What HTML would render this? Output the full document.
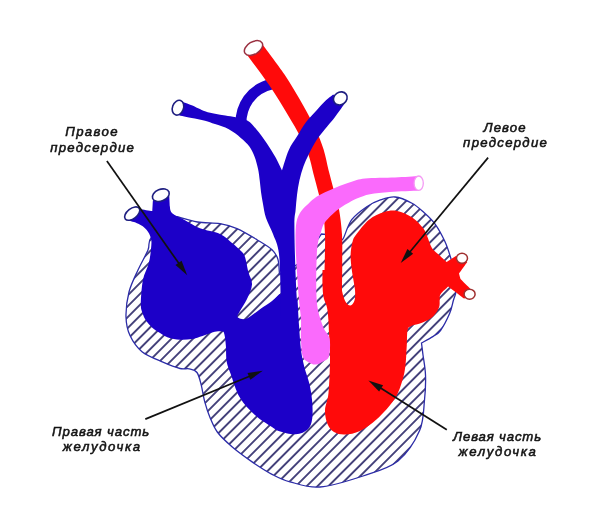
<!DOCTYPE html>
<html><head><meta charset="utf-8">
<style>
html,body{margin:0;padding:0;background:#fff;}
svg{display:block;}
svg{will-change:transform;}
text{font-family:"Liberation Sans",sans-serif;font-style:italic;font-size:13.2px;fill:#141414;stroke:#141414;stroke-width:0.55px;}
</style></head><body>
<svg width="600" height="523" viewBox="0 0 600 523">
<defs>
<pattern id="h" patternUnits="userSpaceOnUse" width="30" height="7.69" patternTransform="translate(4.0,0) rotate(-45.13)">
<rect width="30" height="7.69" fill="#fff"/>
<line x1="0" y1="3.845" x2="30" y2="3.845" stroke="#16125a" stroke-width="1.55"/>
</pattern>
</defs>
<rect width="600" height="523" fill="#fff"/>
<path fill="url(#h)" stroke="#2c2ca8" stroke-width="1.3" d="M151.7,237 C146.9,242.6 150.3,244.5 148,250 C145.7,255.5 141.2,263 138,270 C134.8,277 131,284.2 129,292 C127,299.8 125.8,309.7 126,317 C126.2,324.3 127.3,329.8 130,335.6 C132.7,341.4 136.4,347.2 142,351.7 C147.6,356.2 157.2,359.6 163.5,362.4 C169.8,365.2 175.7,367.4 180,368.5 C184.3,369.6 186.4,368.1 189.2,368.8 C192,369.5 195,369.8 197,372.5 C199,375.2 199.9,379.9 201.2,384.9 C202.5,389.9 203.4,396.9 204.9,402.3 C206.4,407.7 207.8,412.2 209.9,417.2 C212,422.1 213.6,427 217.3,432 C221,437 226.5,442 232.3,447 C238.1,452 245.5,457.3 252.1,461.9 C258.7,466.4 265.7,471 272,474.3 C278.3,477.6 282,479.7 290,481.8 C298,483.9 307.8,488 320,487 C332.2,486 350,480.3 363,476 C376,471.7 388.6,468.6 398,461 C407.4,453.4 415.2,440.8 419.6,430.6 C424,420.4 423.5,409.3 424.5,400 C425.5,390.7 425.8,382.5 425.5,375 C425.2,367.5 423.7,360.3 423,355 C422.3,349.7 421.8,345 421.5,343 C423.4,341.9 429.6,338.7 432.8,336.6 C436,334.5 437.7,334.3 440.5,330.5 C443.3,326.7 447.4,318.7 449.6,313.6 C451.8,308.5 452.4,303.8 453.5,300 C454.6,296.2 455.8,295.2 456,291 C456.2,286.8 455.9,280.8 455,275 C454.1,269.2 452,262.1 450.3,256.5 C448.6,250.9 447.3,246.7 444.8,241.3 C442.3,236 438.7,229.2 435.3,224.4 C431.9,219.6 428.1,216.2 424.2,212.7 C420.3,209.2 416.9,205.8 412,203.2 C407.1,200.6 400.4,197.5 395,197 C389.6,196.5 384.5,198.6 379.8,200.2 C375.1,201.8 371.5,203.4 366.8,206.7 C362.1,209.9 355.7,214.3 351.7,219.7 C347.7,225.1 344.8,236.3 343,239 C341.2,241.7 341.3,236.5 341,236 C337.8,235.7 324.8,234.3 321.5,234 C317.9,238.7 307,255.2 300,262 C293,268.8 282.9,272.4 279.5,274.5 C279.2,272 279.2,263.7 278,259.6 C276.8,255.5 275.5,253 272,249.7 C268.5,246.4 262.8,243.2 257,239.7 C251.2,236.2 243.2,231.3 237,228.6 C230.8,225.9 226.6,224.7 220,223.6 C213.4,222.5 204.7,223.2 197.5,222 C190.3,220.8 180.4,217.6 177,216.7 C172.8,220.1 156.5,231.4 151.7,237Z"/>
<path d="M241,126 C240,106 251,89 272,84" fill="none" stroke="#1c00c8" stroke-width="11"/>
<path fill="#ff0a0a" d="M246,53.5 C249.9,58.8 262.4,75 269.3,85.2 C276.3,95.4 282.5,106 287.6,114.5 C292.8,123.1 296.9,130.1 300.4,136.7 C303.8,143.4 306.2,148.3 308.4,154.5 C310.6,160.7 311.8,167.5 313.5,173.9 C315.2,180.3 316.9,186.7 318.5,193 C320.1,199.2 322,204.3 323.1,211.3 C324.2,218.4 324.7,227.3 325,235.4 C325.3,243.5 324.9,250.8 324.8,259.9 C324.6,269 324.1,284.9 324,289.9 C327,289.9 339,290.1 342,290.1 C342,285.1 342.3,269.3 342.2,260.1 C342.2,250.8 342.5,243.1 342,234.6 C341.4,226 340.3,216.2 338.9,208.7 C337.5,201.1 335.2,195.5 333.5,189 C331.8,182.6 330.2,176.7 328.5,170.1 C326.9,163.5 325.7,156.3 323.6,149.5 C321.4,142.7 319,136.6 315.6,129.3 C312.2,121.9 308.3,114.5 303.2,105.5 C298,96.4 291.7,85.3 284.7,74.8 C277.6,64.3 264.9,47.9 261,42.5 C258.5,44.3 248.5,51.7 246,53.5Z"/>
<ellipse cx="253.5" cy="48" rx="10" ry="6.2" transform="rotate(-31 253.5 48)" fill="#fff" stroke="#9a3040" stroke-width="1.5"/>
<path fill="#1c00c8" d="M127.8,220.3 C129.6,220.9 135.2,222.2 138.3,223.8 C141.4,225.4 144.4,227.2 146.5,229.7 C148.6,232.1 150.2,235.3 151,238.5 C151.8,241.7 151.4,244.8 151,249 C150.6,253.2 150,258.4 148.7,263.6 C147.3,268.8 144.2,273.4 142.9,280 C141.6,286.6 140.9,298 140.8,303.5 C140.7,309 141.6,310.2 142.5,313 C143.4,315.8 144.4,318.1 146,320.5 C147.6,322.9 149.7,325.4 152,327.5 C154.3,329.6 157.3,331.3 160,333 C162.7,334.7 164.7,336.4 168,337.5 C171.3,338.6 176,339.4 180,339.7 C184,339.9 188.2,339.6 192,339 C195.8,338.4 199,337.1 202.5,336 C206,334.9 209.8,332.9 213,332.2 C216.2,331.4 220.1,331.2 222,331.5 C223.9,331.8 223.7,331.6 224.3,334 C225,336.4 225.5,341.4 225.9,345.9 C226.3,350.4 225.8,356.6 226.6,361.2 C227.4,365.8 228.3,367.4 230.5,373.4 C232.7,379.4 235.7,390.4 239.7,397.3 C243.7,404.2 249.2,409.7 254.6,414.7 C260,419.7 268,424.4 272,427.1 C276,429.8 274.6,429.7 278.6,430.9 C282.6,432.1 290.9,434.6 295.8,434.3 C300.7,434 305.2,431.8 307.9,429.2 C310.6,426.6 311.5,423.4 312.2,418.8 C312.9,414.2 312.6,407.3 312.2,401.6 C311.8,395.9 310.9,390.1 309.6,384.4 C308.3,378.7 305.8,372.9 304.4,367.2 C303,361.5 301.9,357 301,350 C300.1,343 299.6,333.3 299,325 C298.4,316.7 297.8,304.2 297.6,300 C294.6,299 282.5,295 279.5,294 C278.2,295.2 275.2,298.5 272,301 C268.8,303.5 264.1,306.3 260,309.2 C255.9,312.1 250.3,316.7 247.3,318.3 C244.3,319.9 243.7,319.2 242,319 C240.3,318.8 237.6,318.1 237.3,316.8 C237,315.5 238.4,314 240,311 C241.6,308 245,303.4 247,299 C249,294.6 251.8,288.9 252,284.4 C252.2,279.9 249.6,276.6 248.4,272 C247.2,267.4 246.2,260.5 245,257 C243.8,253.5 243.2,253.3 241,251 C238.8,248.7 235.5,245.8 232,243 C228.5,240.2 225.3,236.4 220,234 C214.7,231.6 205.8,230.6 200,228.3 C194.2,226 189.6,222.8 185,220.3 C180.4,217.8 174.7,215.6 172.2,213.3 C169.7,211 170.2,207.5 169.8,206.3 C169.7,204.4 169.3,196.6 169.2,194.7 C166.5,195.7 155.6,199.5 152.9,200.5 C152.8,202.2 152.4,209.2 152.3,211 C150.2,210.7 142.1,209.5 140,209.2 C138,211.1 129.8,218.5 127.8,220.3Z"/>
<ellipse cx="132.2" cy="213.6" rx="8.8" ry="5" transform="rotate(-38 132.2 213.6)" fill="#fff" stroke="#1e1e80" stroke-width="1.6"/>
<ellipse cx="160.8" cy="195.2" rx="8.8" ry="5.8" transform="rotate(-22 160.8 195.2)" fill="#fff" stroke="#1e1e80" stroke-width="1.6"/>
<path fill="#1c00c8" d="M177,114.7 C177.9,114.9 179.9,115.5 182.3,116 C184.8,116.5 187.9,117.2 191.7,118 C195.5,118.8 201.1,119.7 205,120.7 C208.9,121.7 211,122.7 215,124.1 C219,125.5 224.5,127 228.8,129.3 C233.1,131.6 237.4,135 240.8,137.9 C244.2,140.8 247.1,143.3 249.4,146.5 C251.7,149.7 253.2,153.1 254.6,156.8 C256,160.5 257.1,164.8 258,168.8 C258.9,172.8 259.3,177 259.8,180.9 C260.3,184.8 260.5,188.2 261,192 C261.5,195.8 262.2,199.7 263,204 C263.8,208.3 264.3,213 266,218 C267.7,223 270.8,228 273,234 C275.2,240 277.7,243.2 279,254 C280.3,264.8 280.4,288.3 280.7,299 C280.9,309.7 280.5,314.8 280.5,318 C283.4,318 295.1,318 298,318 C297.6,310.8 296.2,290 295.6,274.5 C295,259 294.4,235.6 294.4,224.8 C294.4,214.1 295.2,215 295.6,210 C296,205 296.4,200 297,195 C297.6,190 298.4,184.8 299.5,180 C300.6,175.2 301.9,170.5 303.5,166.2 C305.1,161.9 306.6,158.6 308.8,154.2 C311,149.8 313.8,144.2 316.9,139.5 C320,134.8 324.6,129.8 327.6,126 C330.6,122.2 332.3,120.6 335,117 C337.7,113.4 342.5,106.6 344,104.5 C342.2,102.8 335,96.2 333.2,94.5 C331.8,95.6 327.7,98.6 325,101.2 C322.3,103.8 320,106.5 316.9,110 C313.8,113.5 309.5,117.5 306.1,122 C302.8,126.5 299.7,132.1 296.8,136.8 C293.9,141.5 291.2,144.6 288.7,150.2 C286.2,155.8 283.1,167 282,170.4 C280.9,168.1 277.8,161.4 275.2,156.8 C272.6,152.2 269.8,147.6 266.6,143 C263.5,138.4 259.5,133 256.3,129.3 C253.2,125.6 251.1,122.7 247.7,120.7 C244.3,118.7 239.4,118.1 235.7,117.2 C232,116.3 228.8,116.1 225.3,115.5 C221.9,114.9 218.4,114.5 215,113.8 C211.6,113.1 208.9,112.7 205,111.3 C201.1,109.9 195,106.7 191.7,105.3 C188.4,103.9 187,103.5 185,102.7 C183,101.9 180.6,101 179.7,100.7 C179.2,103 177.4,112.4 177,114.7Z"/>
<ellipse cx="178" cy="107.7" rx="5.5" ry="7.6" transform="rotate(20 178 107.7)" fill="#fff" stroke="#1e1e80" stroke-width="1.6"/>
<ellipse cx="340.3" cy="98.4" rx="7.2" ry="6.2" transform="rotate(-35 340.3 98.4)" fill="#fff" stroke="#1e1e80" stroke-width="1.6"/>
<path fill="#ff0a0a" d="M328.4,320 C328.1,315.8 327.8,311.3 327,307.5 C326.2,303.7 324.2,300.8 323.5,297 C322.8,293.2 322.7,289.5 322.5,285 C322.3,280.5 322.5,272.5 322.5,270 C325.5,270 337.5,270 340.5,270 C340.5,271.2 340.2,273.2 340.5,277 C340.8,280.8 341.6,288.8 342.5,293 C343.4,297.2 344.7,300.4 346,302.5 C347.3,304.6 349.1,305.8 350.5,305.5 C351.9,305.2 353.6,303.4 354.4,300.8 C355.1,298.2 355.4,295.1 355,290 C354.6,284.9 352.5,275.8 351.8,270 C351.1,264.2 350.5,259.7 350.6,255 C350.7,250.3 351.6,245.4 352.5,242 C353.4,238.6 353.2,238.5 356,234.8 C358.8,231.1 364.3,223.5 369,219.7 C373.7,215.9 379.5,213.4 384.2,212 C388.9,210.6 392.5,210.1 397.2,211 C401.9,211.9 408,214.6 412.3,217.5 C416.6,220.4 420.7,225.1 423.2,228.3 C425.7,231.6 426.1,233.8 427.5,237 C428.9,240.2 430,244.9 431.8,247.8 C433.6,250.7 435.8,251.9 438.3,254.3 C440.8,256.7 445.3,260.8 446.7,262.1 C448.2,261.1 454.4,257 455.9,256 C457.8,257 465.4,261.1 467.3,262.1 C465.9,264 460.4,271.7 459,273.6 C459.2,274.5 460.2,278.1 460.5,279 C462.1,280.6 468.8,287.2 470.4,288.9 C469.4,290.5 465.3,297.1 464.3,298.8 C461.6,296.8 450.9,288.6 448.2,286.6 C446.9,287.9 442,292 440.6,294.2 C439.2,296.4 440,297.8 439.7,300 C439.4,302.2 440.1,304.7 439,307.5 C437.9,310.3 435.6,314.1 432.8,316.7 C430,319.2 425.6,321.3 422,322.8 C418.4,324.3 413.8,324.7 411.4,325.9 C409,327.1 408.4,326.8 407.6,330 C406.8,333.2 407.2,339.2 406.8,345 C406.4,350.8 406.2,359.2 405.5,365 C404.8,370.8 404.3,374.3 402.5,380 C400.7,385.7 398.9,392.5 394.6,399 C390.4,405.5 382.8,413.7 377,419 C371.2,424.3 365.3,428.4 360,431 C354.7,433.6 349.3,434.3 345,434.5 C340.7,434.7 336.9,433.8 334,432 C331.1,430.2 329,427.6 327.5,424 C326,420.4 324.8,415.4 325,410.2 C325.2,405 327.7,401.4 328.5,393 C329.3,384.6 329.9,370 330,360 C330.1,350 329.3,339.7 329,333 C328.7,326.3 328.7,324.2 328.4,320Z"/>
<ellipse cx="462" cy="258.3" rx="5.5" ry="5" fill="#fff" stroke="#a03030" stroke-width="1.5"/>
<ellipse cx="469.6" cy="294.2" rx="5.5" ry="5" fill="#fff" stroke="#a03030" stroke-width="1.5"/>
<path fill="#fa6afc" d="M419,176 C415,176.2 404,177.1 395,177.5 C386,177.9 372.4,177.7 365,178.4 C357.6,179.1 355.2,180.7 350.9,181.9 C346.6,183.2 343.2,184.4 339.4,185.9 C335.6,187.4 331.7,189.2 327.9,191 C324.1,192.8 319.8,194.7 316.5,196.8 C313.2,198.9 311,201.3 308.4,203.7 C305.8,206.1 303.1,208.2 301.1,211.2 C299.1,214.2 297.4,217.1 296.5,221.9 C295.6,226.7 295.5,233 295.5,240 C295.5,247 295.9,254 296.5,264 C297.1,274 298.2,290.7 299,300 C299.8,309.3 300.7,313.6 301,320 C301.3,326.4 300.6,332.7 300.9,338.7 C301.2,344.7 301.4,352 302.6,355.9 C303.8,359.8 305.8,360.6 308,362 C310.2,363.4 313.1,364.8 315.8,364.6 C318.5,364.4 321.8,362.4 324,361 C326.2,359.6 328.1,359.6 329,355.9 C329.9,352.2 330.6,343.5 329.6,338.7 C328.7,333.9 325.2,332 323.3,327.2 C321.4,322.4 319.2,316.2 318,310 C316.8,303.8 316.5,299.2 316.3,290 C316.1,280.8 316.4,263.3 316.8,255 C317.2,246.7 317.8,243.8 318.5,240 C319.2,236.2 320.1,234.8 321,232 C321.9,229.2 322.3,226.3 324.2,223.3 C326.1,220.3 329.7,216.8 332.5,214.2 C335.3,211.6 338,209.4 340.8,207.5 C343.6,205.6 346.4,204 349.2,202.5 C352,201 354,199.7 357.5,198.3 C361,196.9 364.6,195.2 370,194.2 C375.4,193.1 381.8,192.6 390,192 C398.2,191.4 414.2,190.8 419,190.5 C419,188.1 419,178.4 419,176Z"/>
<ellipse cx="418.7" cy="183.2" rx="4.6" ry="7.2" fill="#fff" stroke="#f49af4" stroke-width="1.3"/>
<line x1="106.9" y1="161.1" x2="179.7" y2="264.6" stroke="#111" stroke-width="1.7"/><path d="M187.2,275.2 L175.5,265.1 L181.6,260.8 Z" fill="#111"/><line x1="488.1" y1="157.6" x2="409.0" y2="253.0" stroke="#111" stroke-width="1.7"/><path d="M400.7,263.0 L407.4,249.1 L413.1,253.8 Z" fill="#111"/><line x1="145.3" y1="419.1" x2="250.8" y2="375.7" stroke="#111" stroke-width="1.7"/><path d="M262.8,370.7 L250.3,379.8 L247.5,373.0 Z" fill="#111"/><line x1="446.8" y1="429.8" x2="379.4" y2="387.3" stroke="#111" stroke-width="1.7"/><path d="M368.4,380.4 L383.1,385.3 L379.1,391.5 Z" fill="#111"/>
<text x="65.2" y="135.8" textLength="52.4" lengthAdjust="spacing">Правое</text>
<text x="50.25" y="151.7" textLength="83.65" lengthAdjust="spacing">предсердие</text>
<text x="483.5" y="131.7" textLength="42.1" lengthAdjust="spacing">Левое</text>
<text x="463.1" y="146.7" textLength="83.8" lengthAdjust="spacing">предсердие</text>
<text x="52.1" y="435.7" textLength="97.1" lengthAdjust="spacing">Правая часть</text>
<text x="62.8" y="451.2" textLength="77.3" lengthAdjust="spacing">желудочка</text>
<text x="453.1" y="440.6" textLength="88.0" lengthAdjust="spacing">Левая часть</text>
<text x="458.6" y="456.2" textLength="77.3" lengthAdjust="spacing">желудочка</text>
</svg>
</body></html>
